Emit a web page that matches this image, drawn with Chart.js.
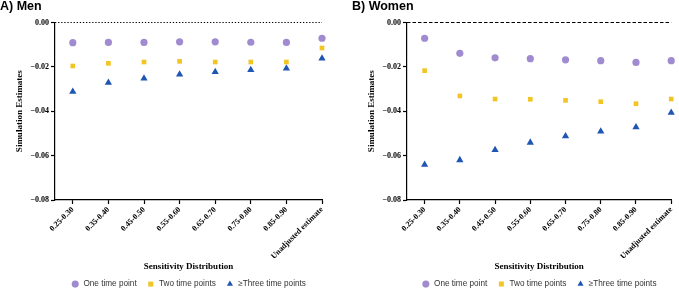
<!DOCTYPE html>
<html>
<head>
<meta charset="utf-8">
<script src="https://cdn.jsdelivr.net/npm/chart.js@4.4.0/dist/chart.umd.min.js"></script>
<style>
  html, body { margin: 0; padding: 0; background: #fff; }
  body { width: 679px; height: 290px; position: relative; overflow: hidden; }
  .panel { position: absolute; top: 0; height: 290px; }
  #p1 { left: 0; width: 340px; }
  #p2 { left: 352px; width: 327px; }
</style>
</head>
<body>
<div class="panel" id="p1"><canvas id="c1"></canvas></div>
<div class="panel" id="p2"><canvas id="c2"></canvas></div>
<script>
const categories = ["0.25-0.30", "0.35-0.40", "0.45-0.50", "0.55-0.60", "0.65-0.70", "0.75-0.80", "0.85-0.90", "Unadjusted estimate"];
const seriesNames = ["One time point", "Two time points", "\u2265Three time points"];
const yTicks = [0, -0.02, -0.04, -0.06, -0.08];

const menOne   = [-0.0091, -0.0090, -0.0090, -0.0087, -0.0087, -0.0089, -0.0090, -0.0071];
const menTwo   = [-0.0196, -0.0184, -0.0178, -0.0175, -0.0178, -0.0178, -0.0178, -0.0115];
const menThree = [-0.0312, -0.0271, -0.0252, -0.0234, -0.0223, -0.0214, -0.0207, -0.0162];

const womenOne   = [-0.0071, -0.0139, -0.0159, -0.0163, -0.0168, -0.0172, -0.0180, -0.0172];
const womenTwo   = [-0.0217, -0.0331, -0.0345, -0.0346, -0.0351, -0.0357, -0.0366, -0.0345];
const womenThree = [-0.0641, -0.0620, -0.0574, -0.0541, -0.0512, -0.0491, -0.0472, -0.0406];

const colors = ["#a08bd0", "#f2c524", "#1f56b3"];
const styles = ["circle", "rect", "triangle"];
const radii = [3.6, 3.3, 4.2];

function pts(arr) { return arr.map((v, i) => ({ x: i, y: v })); }

const serif = "'Liberation Serif', 'Times New Roman', serif";
const sans = "'Liberation Sans', Arial, sans-serif";

const legendFitPlugin = {
  id: 'legendFit',
  beforeUpdate(chart) {
    if (chart.legend && !chart.legend._patched) {
      const orig = chart.legend.fit;
      chart.legend.fit = function () { orig.call(this); this.height = 20; };
      chart.legend._patched = true;
    }
  }
};

function makeChart(id, title, series, dash, rightPad) {
  const datasets = series.map((s, k) => ({
    label: seriesNames[k],
    data: pts(s),
    showLine: false,
    clip: false,
    pointStyle: styles[k],
    pointRadius: radii[k],
    pointHoverRadius: radii[k],
    backgroundColor: colors[k],
    borderColor: colors[k],
    borderWidth: 0
  }));
  datasets.push({
    label: 'zero',
    data: [{ x: -0.5, y: 0 }, { x: categories.length - 1, y: 0 }],
    showLine: true,
    clip: false,
    pointRadius: 0,
    borderColor: '#000',
    borderWidth: 1.2,
    borderDash: dash,
    fill: false
  });
  return new Chart(document.getElementById(id), {
    type: 'scatter',
    data: { datasets },
    plugins: [legendFitPlugin],
    options: {
      responsive: true,
      maintainAspectRatio: false,
      animation: false,
      layout: { padding: { left: 0, right: rightPad, top: 0, bottom: 0 } },
      plugins: {
        tooltip: { enabled: false },
        title: {
          display: true,
          text: title,
          align: 'start',
          color: '#000',
          font: { family: sans, size: 12.5, weight: 'bold', lineHeight: 1 },
          padding: { top: 0, bottom: 10 }
        },
        legend: {
          position: 'bottom',
          fullSize: false,
          labels: {
            usePointStyle: true,
            boxHeight: 5,
            padding: 10,
            color: '#333',
            font: { family: sans, size: 8.2 },
            filter: (item) => item.text !== 'zero'
          }
        }
      },
      scales: {
        x: {
          type: 'linear',
          min: -0.5,
          max: categories.length - 1,
          afterBuildTicks: (s) => { s.ticks = categories.map((c, i) => ({ value: i })); },
          afterFit: (s) => { s.height = 70; },
          ticks: {
            autoSkip: false,
            minRotation: 45,
            maxRotation: 45,
            padding: 1,
            color: '#000',
            font: { family: serif, size: 8, weight: 'bold' },
            callback: (v) => categories[v] !== undefined ? categories[v] : ''
          },
          grid: { drawOnChartArea: false, drawTicks: true, tickLength: 4, color: '#000', tickWidth: 1.2 },
          border: { display: true, color: '#000', width: 1.2 },
          title: {
            display: true,
            text: 'Sensitivity Distribution',
            color: '#000',
            font: { family: serif, size: 9, weight: 'bold' },
            padding: { top: 0, bottom: -2 }
          }
        },
        y: {
          min: -0.08,
          max: 0,
          afterBuildTicks: (s) => { s.ticks = yTicks.map(v => ({ value: v })); },
          afterFit: (s) => { s.width = 55; },
          ticks: {
            padding: 2,
            color: '#000',
            font: { family: serif, size: 8, weight: 'bold' },
            callback: (v) => v === 0 ? '0.00' : '\u2212' + Math.abs(v).toFixed(2)
          },
          grid: { drawOnChartArea: false, drawTicks: true, tickLength: 4, color: '#000', tickWidth: 1.2 },
          border: { display: true, color: '#000', width: 1.2 },
          title: {
            display: true,
            text: 'Simulation Estimates',
            color: '#000',
            font: { family: serif, size: 9, weight: 'bold' },
            padding: { top: 14, bottom: 0 }
          }
        }
      }
    }
  });
}

makeChart('c1', 'A) Men', [menOne, menTwo, menThree], [1.3, 1.8], 18);
makeChart('c2', 'B) Women', [womenOne, womenTwo, womenThree], [3.5, 2], 5);
</script>
</body>
</html>
